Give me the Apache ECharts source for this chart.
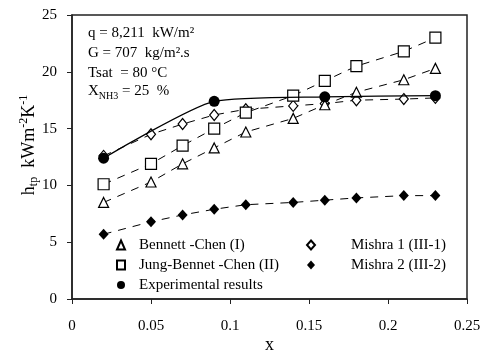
<!DOCTYPE html>
<html><head><meta charset="utf-8">
<script src="https://cdn.jsdelivr.net/npm/echarts@6/dist/echarts.min.js"></script>
<style>html,body{margin:0;padding:0;background:#fff}#c{width:484px;height:352px}</style>
</head><body><div id="c"></div>
<script>
const xValues = [0.02, 0.05, 0.07, 0.09, 0.11, 0.14, 0.16, 0.18, 0.21, 0.23];
const bennettChen = [8.5, 10.3, 11.9, 13.3, 14.7, 15.9, 17.1, 18.2, 19.3, 20.3];
const jungBennetChen = [10.1, 11.9, 13.5, 15.0, 16.4, 17.9, 19.2, 20.5, 21.8, 23.0];
const mishra1 = [12.6, 14.5, 15.4, 16.2, 16.7, 17.0, 17.2, 17.5, 17.6, 17.7];
const mishra2 = [5.7, 6.8, 7.4, 7.9, 8.3, 8.5, 8.7, 8.9, 9.1, 9.1];
const expX = [0.02, 0.09, 0.16, 0.23];
const experimental = [12.4, 17.4, 17.8, 17.9];
const seriesNames = ['Bennett -Chen (I)', 'Jung-Bennet -Chen (II)', 'Experimental results', 'Mishra 1 (III-1)', 'Mishra 2 (III-2)'];
const annotations = ['q = 8,211  kW/m\u00b2', 'G = 707  kg/m\u00b2.s', 'Tsat  = 80 \u00b0C'];

const FONT = "'Liberation Serif', 'Times New Roman', serif";
const pair = (xs, ys) => xs.map((x, i) => [x, ys[i]]);
const dash = { type: [8, 7], width: 1, color: '#000' };
const openStyle = { color: '#fff', borderColor: '#000', borderWidth: 1.2 };

const chart = echarts.init(document.getElementById('c'));
chart.setOption({
  animation: false,
  textStyle: { fontFamily: FONT, color: '#000' },
  grid: { left: 72, right: 17, top: 15, bottom: 53, outerBoundsMode: 'none', containLabel: false, show: true, borderColor: '#222', borderWidth: 1.5, backgroundColor: 'transparent' },
  xAxis: {
    type: 'value', min: 0, max: 0.25, interval: 0.05,
    name: 'x', nameLocation: 'middle', nameGap: 37, nameMoveOverlap: false,
    nameTextStyle: { fontSize: 18, fontFamily: FONT, color: '#000' },
    axisLine: { lineStyle: { color: '#222', width: 1.5 } },
    axisTick: { show: true, inside: false, length: 5, lineStyle: { color: '#222' } },
    axisLabel: { fontSize: 15, fontFamily: FONT, color: '#000', margin: 20 },
    splitLine: { show: false }
  },
  yAxis: {
    type: 'value', min: 0, max: 25, interval: 5,
    name: '{a|h}{s|tp}{a|  kWm}{p|-2}{a|K}{p|-1}', nameLocation: 'middle', nameGap: 32, nameRotate: 90,
    nameMoveOverlap: false,
    nameTextStyle: {
      fontFamily: FONT, color: '#000', padding: [0, 0, 0, 24],
      rich: {
        a: { fontSize: 18, fontFamily: FONT, color: '#000', lineHeight: 22 },
        s: { fontSize: 12, fontFamily: FONT, color: '#000', verticalAlign: 'bottom', lineHeight: 22, padding: [6, 0, 0, 0] },
        p: { fontSize: 12, fontFamily: FONT, color: '#000', verticalAlign: 'top', lineHeight: 22, padding: [0, 0, 8, 0] }
      }
    },
    axisLine: { show: true, lineStyle: { color: '#222', width: 1.5 } },
    axisTick: { show: true, inside: false, length: 5, lineStyle: { color: '#222' } },
    axisLabel: { fontSize: 15, fontFamily: FONT, color: '#000', margin: 15 },
    splitLine: { show: false }
  },
  legend: [
    {
      orient: 'vertical', left: 116, top: 237, itemGap: 4, itemWidth: 8, itemHeight: 9, padding: 0,
      textStyle: { fontSize: 15, fontFamily: FONT, color: '#000', lineHeight: 16, padding: [0, 0, 0, 9] },
      data: [
        { name: seriesNames[0], icon: 'triangle' },
        { name: seriesNames[1], icon: 'rect' },
        { name: seriesNames[2], icon: 'circle' }
      ]
    },
    {
      orient: 'vertical', left: 306, top: 237, itemGap: 4, itemWidth: 8, itemHeight: 9, padding: 0,
      textStyle: { fontSize: 15, fontFamily: FONT, color: '#000', lineHeight: 16, padding: [0, 0, 0, 31] },
      data: [
        { name: seriesNames[3], icon: 'diamond' },
        { name: seriesNames[4], icon: 'diamond' }
      ]
    }
  ],
  graphic: [
    {
      type: 'text', left: 88, top: 23,
      style: {
        text: annotations.join('\n'),
        font: '15px ' + FONT, fill: '#000', lineHeight: 20
      }
    },
    {
      type: 'text', left: 88, top: 84,
      style: {
        text: '{a|X}{s|NH3}{a| = 25  %}',
        font: '15px ' + FONT, fill: '#000',
        rich: {
          a: { fontSize: 15, fontFamily: FONT, fill: '#000', lineHeight: 20 },
          s: { fontSize: 10, fontFamily: FONT, fill: '#000', verticalAlign: 'bottom', lineHeight: 20, padding: [7, 0, 0, 0] }
        }
      }
    }
  ],
  series: [
    {
      name: seriesNames[0], type: 'line', data: pair(xValues, bennettChen),
      symbol: 'triangle', symbolSize: 10, lineStyle: dash, itemStyle: openStyle, z: 3
    },
    {
      name: seriesNames[1], type: 'line', data: pair(xValues, jungBennetChen),
      symbol: 'rect', symbolSize: 11, lineStyle: dash, itemStyle: openStyle, z: 3
    },
    {
      name: seriesNames[3], type: 'line', data: pair(xValues, mishra1),
      symbol: 'diamond', symbolSize: [9, 11], lineStyle: dash, itemStyle: openStyle, z: 2
    },
    {
      name: seriesNames[4], type: 'line', data: pair(xValues, mishra2),
      symbol: 'diamond', symbolSize: [10, 11], lineStyle: dash, itemStyle: { color: '#000' }, z: 3
    },
    {
      name: seriesNames[2], type: 'line', data: pair(expX, experimental),
      symbol: 'circle', symbolSize: 11, smooth: 0.2,
      lineStyle: { type: 'solid', width: 1.2, color: '#000' }, itemStyle: { color: '#000' }, z: 5
    }
  ]
});
</script>
</body></html>
